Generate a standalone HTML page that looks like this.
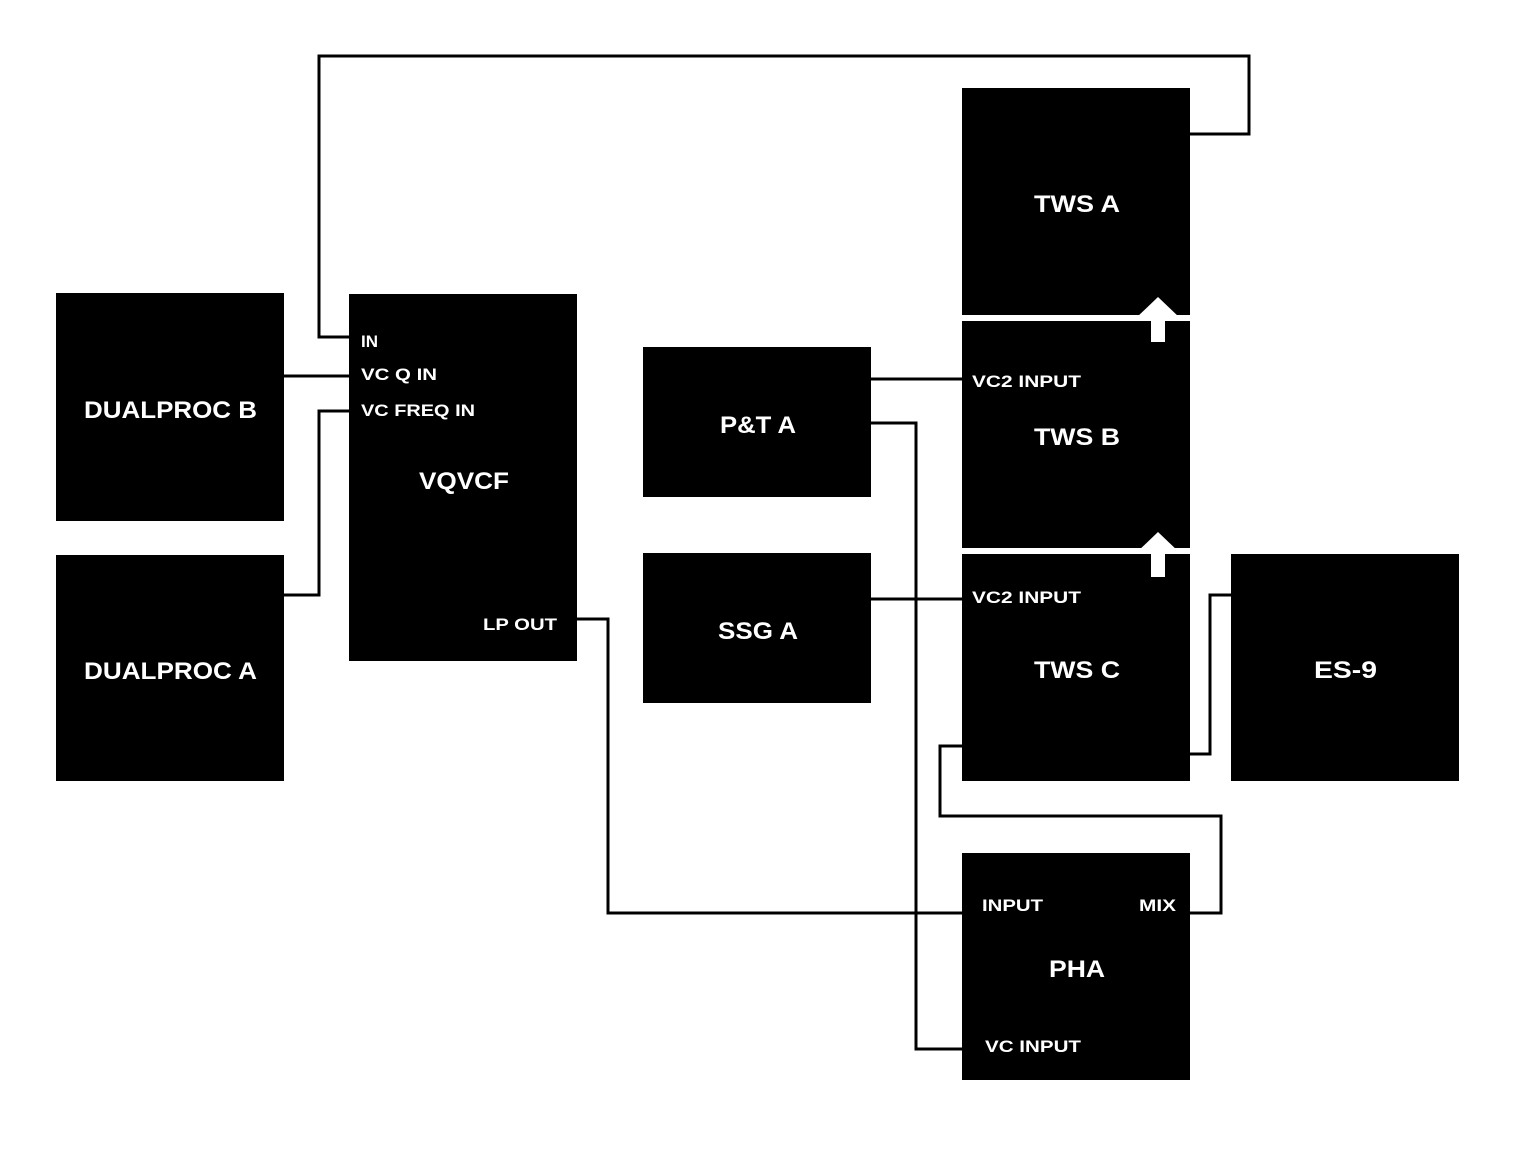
<!DOCTYPE html>
<html><head><meta charset="utf-8"><style>
html,body{margin:0;padding:0;background:#fff}
svg{display:block}
text{font-family:"Liberation Sans",sans-serif;font-weight:bold;fill:#fff}
.t{font-size:24px}
.l{font-size:17px}
</style></head><body>
<svg width="1518" height="1152" viewBox="0 0 1518 1152">
<g fill="none" stroke="#000" stroke-width="3">
<polyline points="349,337 319,337 319,56 1249,56 1249,134 1190,134"/>
<polyline points="284,376 349,376"/>
<polyline points="284,595 319,595 319,411 349,411"/>
<polyline points="577,619 608,619 608,913 962,913"/>
<polyline points="871,379 962,379"/>
<polyline points="871,423 916,423 916,1049 962,1049"/>
<polyline points="871,599 962,599"/>
<polyline points="1190,754 1210,754 1210,595 1231,595"/>
<polyline points="962,746 940,746 940,816 1221,816 1221,913 1190,913"/>
</g>
<g fill="#000">
<rect x="56" y="293" width="228" height="228"/>
<rect x="56" y="555" width="228" height="226"/>
<rect x="349" y="294" width="228" height="367"/>
<rect x="643" y="347" width="228" height="150"/>
<rect x="643" y="553" width="228" height="150"/>
<rect x="962" y="88" width="228" height="227"/>
<rect x="962" y="321" width="228" height="227"/>
<rect x="962" y="554" width="228" height="227"/>
<rect x="1231" y="554" width="228" height="227"/>
<rect x="962" y="853" width="228" height="227"/>
</g>
<g fill="#fff">
<polygon points="1158,297 1180,318 1165,318 1165,342 1151,342 1151,318 1136,318"/>
<polygon points="1158,532 1180,553 1165,553 1165,577 1151,577 1151,553 1136,553"/>
</g>
<text class="t" x="84" y="418" textLength="173" lengthAdjust="spacingAndGlyphs">DUALPROC B</text>
<text class="t" x="84" y="679" textLength="173" lengthAdjust="spacingAndGlyphs">DUALPROC A</text>
<text class="t" x="419" y="489" textLength="90" lengthAdjust="spacingAndGlyphs">VQVCF</text>
<text class="t" x="720" y="433" textLength="76" lengthAdjust="spacingAndGlyphs">P&amp;T A</text>
<text class="t" x="718" y="639" textLength="80" lengthAdjust="spacingAndGlyphs">SSG A</text>
<text class="t" x="1034" y="212" textLength="86" lengthAdjust="spacingAndGlyphs">TWS A</text>
<text class="t" x="1034" y="445" textLength="86" lengthAdjust="spacingAndGlyphs">TWS B</text>
<text class="t" x="1034" y="678" textLength="86" lengthAdjust="spacingAndGlyphs">TWS C</text>
<text class="t" x="1314" y="678" textLength="63" lengthAdjust="spacingAndGlyphs">ES-9</text>
<text class="t" x="1049" y="977" textLength="56" lengthAdjust="spacingAndGlyphs">PHA</text>
<text class="l" x="361" y="347">IN</text>
<text class="l" x="361" y="380" textLength="76" lengthAdjust="spacingAndGlyphs">VC Q IN</text>
<text class="l" x="361" y="416" textLength="114" lengthAdjust="spacingAndGlyphs">VC FREQ IN</text>
<text class="l" x="483" y="630" textLength="74" lengthAdjust="spacingAndGlyphs">LP OUT</text>
<text class="l" x="972" y="387" textLength="109" lengthAdjust="spacingAndGlyphs">VC2 INPUT</text>
<text class="l" x="972" y="603" textLength="109" lengthAdjust="spacingAndGlyphs">VC2 INPUT</text>
<text class="l" x="982" y="911" textLength="61" lengthAdjust="spacingAndGlyphs">INPUT</text>
<text class="l" x="1139" y="911" textLength="37" lengthAdjust="spacingAndGlyphs">MIX</text>
<text class="l" x="985" y="1052" textLength="96" lengthAdjust="spacingAndGlyphs">VC INPUT</text>
</svg>
</body></html>
